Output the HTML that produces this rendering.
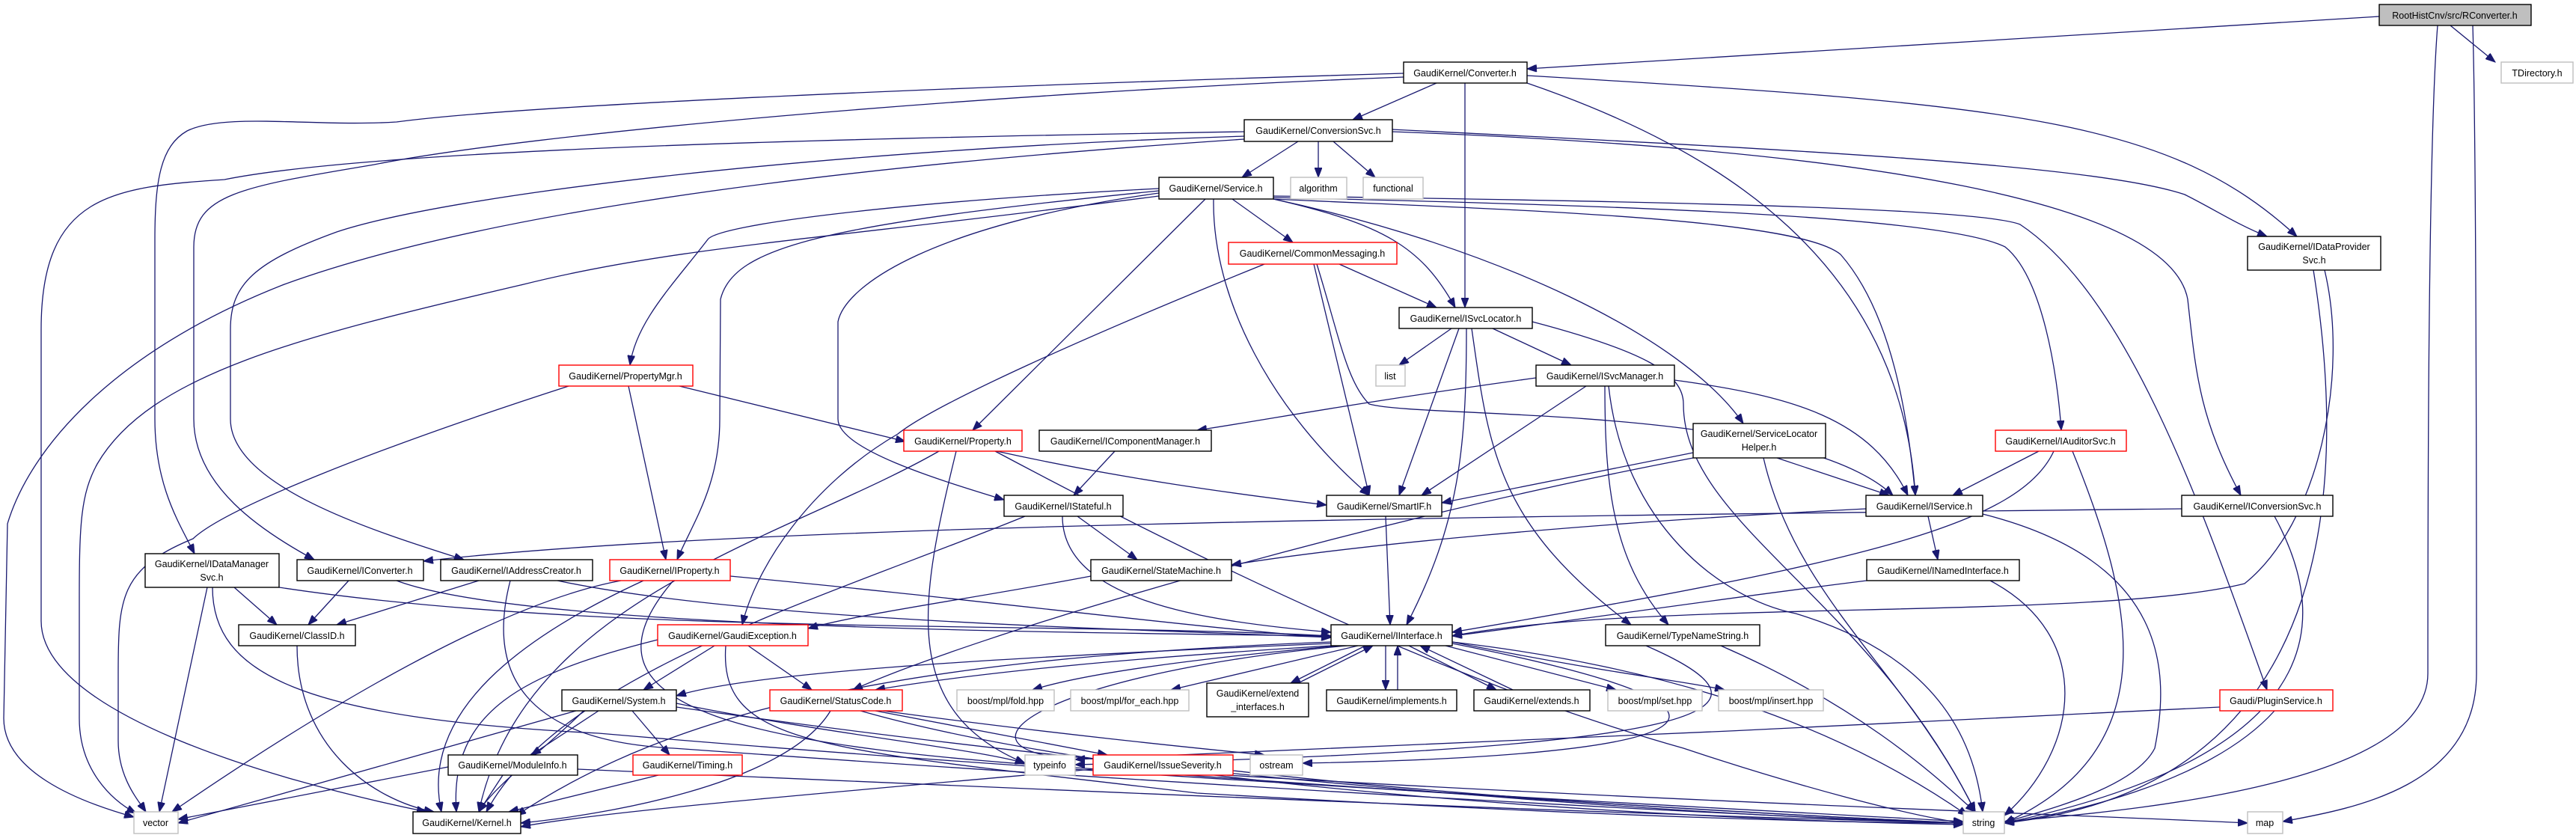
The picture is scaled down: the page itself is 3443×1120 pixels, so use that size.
<!DOCTYPE html>
<html><head><meta charset="utf-8"><style>
html,body{margin:0;padding:0;background:#fff;}
svg{display:block;}
text{font-family:"Liberation Sans",sans-serif;font-size:12.5px;fill:#000;text-anchor:middle;}
.e path{fill:none;stroke:#191970;stroke-width:1.3;}
.n rect{fill:#fff;stroke:#000;stroke-width:1.4;}
.g rect{fill:#fff;stroke:#bfbfbf;stroke-width:1.4;}
.r rect{fill:#fff;stroke:#ff0000;stroke-width:1.4;}
</style></head><body>
<svg width="3443" height="1120" viewBox="0 0 3443 1120" xmlns="http://www.w3.org/2000/svg">
<defs><marker id="a" markerUnits="userSpaceOnUse" markerWidth="14" markerHeight="10" refX="13" refY="5" orient="auto"><path d="M0,0 L13,5 L0,10 z" fill="#191970" stroke="#191970"/></marker></defs>
<g class="e" marker-end="url(#a)">
<path marker-end="url(#a)" d="M3180,22 L2041,92"/>
<path marker-end="url(#a)" d="M3275,34 L3335,83"/>
<path marker-end="url(#a)" d="M3258,34 C3245,200 3245,700 3245,900 C3245,1040 2900,1080 2679,1098"/>
<path marker-end="url(#a)" d="M3305,34 C3310,200 3310,700 3310,900 C3310,1050 3150,1080 3051,1098"/>
<path marker-end="url(#a)" d="M1920,111 L1808,160"/>
<path marker-end="url(#a)" d="M1958,111 L1958,411"/>
<path marker-end="url(#a)" d="M2041,111 C2300,200 2540,350 2560,662"/>
<path marker-end="url(#a)" d="M2041,101 C2700,140 2900,160 3070,316"/>
<path marker-end="url(#a)" d="M1876,98 C1300,115 700,140 530,163 C420,170 300,150 250,175 C215,195 207,240 207,320 L207,560 C207,650 240,700 260,740"/>
<path marker-end="url(#a)" d="M1876,103 C1300,125 700,180 500,220 C320,250 259,260 259,330 L259,560 C259,650 350,710 420,748"/>
<path marker-end="url(#a)" d="M1735,189 L1660,237"/>
<path marker-end="url(#a)" d="M1762,189 L1762,237"/>
<path marker-end="url(#a)" d="M1782,189 L1838,237"/>
<path marker-end="url(#a)" d="M1663,176 C1100,185 500,200 300,240 C150,250 55,260 55,440 L55,830 C55,950 350,1040 570,1085"/>
<path marker-end="url(#a)" d="M1663,182 C1100,200 600,260 450,310 C340,350 308,380 308,440 L308,560 C308,650 500,710 620,748"/>
<path marker-end="url(#a)" d="M1663,186 C1000,230 600,300 380,380 C150,470 40,600 10,700 L5,960 C5,1030 100,1070 179,1092"/>
<path marker-end="url(#a)" d="M1861,176 C2500,200 2900,270 2924,400 C2935,500 2940,560 2995,662"/>
<path marker-end="url(#a)" d="M1861,173 C2400,200 2800,220 2920,260 C2960,280 2990,300 3030,316"/>
<path marker-end="url(#a)" d="M1647,266 L1728,324"/>
<path marker-end="url(#a)" d="M1702,266 C1850,300 1900,330 1945,411"/>
<path marker-end="url(#a)" d="M1622,266 C1620,400 1700,550 1830,662"/>
<path marker-end="url(#a)" d="M1611,266 L1300,575"/>
<path marker-end="url(#a)" d="M1702,266 C2000,280 2400,290 2460,340 C2530,420 2550,560 2560,662"/>
<path marker-end="url(#a)" d="M1702,266 C2000,330 2250,450 2330,566"/>
<path marker-end="url(#a)" d="M1702,264 C2200,275 2600,290 2680,330 C2730,370 2750,500 2755,575"/>
<path marker-end="url(#a)" d="M1702,262 C2300,270 2650,280 2700,300 C2850,400 2950,700 3030,922"/>
<path marker-end="url(#a)" d="M1549,252 C1200,270 960,300 946,320 C900,380 850,430 842,488"/>
<path marker-end="url(#a)" d="M1549,255 C1100,300 980,330 963,400 L962,560 C962,650 925,700 905,748"/>
<path marker-end="url(#a)" d="M1549,258 C1250,300 1130,380 1120,430 L1120,560 C1120,600 1250,640 1342,668"/>
<path marker-end="url(#a)" d="M1549,262 C1100,320 900,330 700,380 C400,450 200,500 130,620 C108,660 106,700 106,800 L106,960 C106,1030 150,1070 182,1087"/>
<path marker-end="url(#a)" d="M1790,353 L1920,411"/>
<path marker-end="url(#a)" d="M1756,353 L1830,662"/>
<path marker-end="url(#a)" d="M1760,353 C1790,450 1800,510 1830,540 C1900,560 2400,540 2530,662"/>
<path marker-end="url(#a)" d="M1690,353 C1450,450 1250,540 1200,580 C1080,650 1010,760 992,835"/>
<path marker-end="url(#a)" d="M1940,439 L1870,488"/>
<path marker-end="url(#a)" d="M1995,439 L2100,488"/>
<path marker-end="url(#a)" d="M1950,439 L1870,662"/>
<path marker-end="url(#a)" d="M1960,439 C1960,600 1950,700 1880,835"/>
<path marker-end="url(#a)" d="M1967,439 C1990,600 2000,700 2180,835"/>
<path marker-end="url(#a)" d="M2048,430 C2200,470 2250,500 2250,540 C2250,700 2500,800 2640,1085"/>
<path marker-end="url(#a)" d="M2053,505 C1800,540 1700,560 1600,575"/>
<path marker-end="url(#a)" d="M2120,516 L1900,662"/>
<path marker-end="url(#a)" d="M2238,508 C2400,530 2500,560 2550,662"/>
<path marker-end="url(#a)" d="M2145,516 C2145,650 2155,750 2230,835"/>
<path marker-end="url(#a)" d="M2150,516 C2170,700 2300,800 2400,820 C2600,880 2640,1000 2650,1085"/>
<path marker-end="url(#a)" d="M908,516 L1210,590"/>
<path marker-end="url(#a)" d="M840,516 L890,748"/>
<path marker-end="url(#a)" d="M760,516 C500,600 300,680 258,720 C160,760 158,800 158,900 L158,990 C158,1040 185,1070 195,1085"/>
<path marker-end="url(#a)" d="M1332,603 C1500,640 1650,660 1773,675"/>
<path marker-end="url(#a)" d="M1330,603 C1700,800 2000,930 2250,1000 C2400,1050 2550,1090 2624,1100"/>
<path marker-end="url(#a)" d="M1255,603 C1050,720 700,800 640,1085"/>
<path marker-end="url(#a)" d="M1278,603 C1230,800 1200,950 1370,1020"/>
<path marker-end="url(#a)" d="M1490,603 L1435,662"/>
<path marker-end="url(#a)" d="M1440,690 L1520,748"/>
<path marker-end="url(#a)" d="M1420,690 C1420,800 1600,830 1779,845"/>
<path marker-end="url(#a)" d="M1370,690 C1100,800 750,900 650,1085"/>
<path marker-end="url(#a)" d="M1852,690 L1858,835"/>
<path marker-end="url(#a)" d="M2263,605 L1927,672"/>
<path marker-end="url(#a)" d="M2375,612 L2525,662"/>
<path marker-end="url(#a)" d="M2357,612 C2400,800 2550,900 2640,1085"/>
<path marker-end="url(#a)" d="M2263,612 C1800,700 1300,850 1140,922"/>
<path marker-end="url(#a)" d="M2725,603 L2610,662"/>
<path marker-end="url(#a)" d="M2745,603 C2700,700 2500,750 1941,845"/>
<path marker-end="url(#a)" d="M2770,603 C2850,800 2900,1000 2679,1100"/>
<path marker-end="url(#a)" d="M2577,690 L2590,748"/>
<path marker-end="url(#a)" d="M2494,680 C2100,700 1800,730 1646,755"/>
<path marker-end="url(#a)" d="M2650,687 C2900,750 2900,900 2880,1000 C2850,1060 2700,1090 2679,1100"/>
<path marker-end="url(#a)" d="M2916,680 C2000,690 1000,700 566,750"/>
<path marker-end="url(#a)" d="M3040,690 C3100,800 3150,1000 2679,1100"/>
<path marker-end="url(#a)" d="M3107,361 C3140,500 3100,700 3000,780 C2800,830 2200,800 1941,850"/>
<path marker-end="url(#a)" d="M3092,361 C3130,600 3150,1050 2679,1100"/>
<path marker-end="url(#a)" d="M313,785 L370,835"/>
<path marker-end="url(#a)" d="M373,785 C800,850 1400,830 1779,850"/>
<path marker-end="url(#a)" d="M277,785 L213,1085"/>
<path marker-end="url(#a)" d="M284,785 C284,900 400,960 800,980 C1500,1040 2300,1080 2624,1098"/>
<path marker-end="url(#a)" d="M466,776 L412,835"/>
<path marker-end="url(#a)" d="M530,776 C700,840 1400,845 1779,850"/>
<path marker-end="url(#a)" d="M640,776 L450,835"/>
<path marker-end="url(#a)" d="M745,776 C1000,830 1500,840 1779,852"/>
<path marker-end="url(#a)" d="M682,776 C650,900 700,990 900,1000 C1600,1050 2300,1090 2624,1100"/>
<path marker-end="url(#a)" d="M976,770 C1300,800 1600,840 1779,852"/>
<path marker-end="url(#a)" d="M830,776 C700,800 500,900 230,1085"/>
<path marker-end="url(#a)" d="M860,776 C700,850 560,950 590,1085"/>
<path marker-end="url(#a)" d="M900,776 C750,950 1000,1000 1500,1030 C2200,1080 2500,1095 2624,1100"/>
<path marker-end="url(#a)" d="M1458,770 C1300,800 1150,820 1080,840"/>
<path marker-end="url(#a)" d="M2495,776 C2300,800 2100,830 1941,850"/>
<path marker-end="url(#a)" d="M2660,776 C2800,850 2780,1000 2679,1090"/>
<path marker-end="url(#a)" d="M397,863 C397,1000 500,1070 580,1085"/>
<path marker-end="url(#a)" d="M955,863 L860,922"/>
<path marker-end="url(#a)" d="M1000,863 L1085,922"/>
<path marker-end="url(#a)" d="M879,855 C700,900 600,950 610,1085"/>
<path marker-end="url(#a)" d="M970,863 C960,1000 1100,1000 1600,1060 C2200,1095 2500,1100 2624,1100"/>
<path marker-end="url(#a)" d="M1779,860 C1300,880 1000,900 904,930"/>
<path marker-end="url(#a)" d="M1779,863 C1500,880 1300,900 1170,922"/>
<path marker-end="url(#a)" d="M1790,863 C1600,880 1450,900 1380,922"/>
<path marker-end="url(#a)" d="M1815,863 L1565,922"/>
<path marker-end="url(#a)" d="M1825,863 L1725,913"/>
<path marker-end="url(#a)" d="M1735,913 L1835,863"/>
<path marker-end="url(#a)" d="M1852,863 L1852,922"/>
<path marker-end="url(#a)" d="M1868,922 L1868,863"/>
<path marker-end="url(#a)" d="M1883,863 L2000,922"/>
<path marker-end="url(#a)" d="M2022,922 L1898,863"/>
<path marker-end="url(#a)" d="M1932,863 L2160,922"/>
<path marker-end="url(#a)" d="M1941,858 C2150,900 2250,910 2305,922"/>
<path marker-end="url(#a)" d="M1800,863 C1400,900 1250,1000 1437,1015"/>
<path marker-end="url(#a)" d="M1941,860 C2400,950 2300,1010 1741,1020"/>
<path marker-end="url(#a)" d="M1779,858 C1200,880 900,950 690,1090"/>
<path marker-end="url(#a)" d="M1941,858 C2300,900 2500,1000 2630,1090"/>
<path marker-end="url(#a)" d="M2300,863 C2500,950 2600,1050 2640,1085"/>
<path marker-end="url(#a)" d="M2200,863 C2400,950 2300,1000 1437,1022"/>
<path marker-end="url(#a)" d="M800,950 L710,1009"/>
<path marker-end="url(#a)" d="M845,950 L895,1009"/>
<path marker-end="url(#a)" d="M780,950 C730,1000 660,1050 640,1085"/>
<path marker-end="url(#a)" d="M770,950 L238,1100"/>
<path marker-end="url(#a)" d="M904,945 C1500,1030 2200,1090 2624,1100"/>
<path marker-end="url(#a)" d="M904,940 C1100,980 1300,1000 1370,1020"/>
<path marker-end="url(#a)" d="M1170,950 L1480,1009"/>
<path marker-end="url(#a)" d="M1110,950 C1050,1050 800,1090 696,1100"/>
<path marker-end="url(#a)" d="M1180,950 C1400,980 1600,1000 1690,1009"/>
<path marker-end="url(#a)" d="M1150,950 C1500,1050 2200,1095 2624,1102"/>
<path marker-end="url(#a)" d="M672,1036 L640,1085"/>
<path marker-end="url(#a)" d="M599,1025 L238,1095"/>
<path marker-end="url(#a)" d="M772,1028 C1500,1060 2200,1090 2624,1100"/>
<path marker-end="url(#a)" d="M880,1036 L680,1085"/>
<path marker-end="url(#a)" d="M1461,1028 C1100,1060 800,1085 696,1105"/>
<path marker-end="url(#a)" d="M1640,1036 C2200,1070 2800,1090 3004,1100"/>
<path marker-end="url(#a)" d="M1648,1030 C2000,1070 2400,1090 2624,1100"/>
<path marker-end="url(#a)" d="M3040,950 C2950,1050 2750,1090 2679,1100"/>
<path marker-end="url(#a)" d="M2967,945 C2500,970 1800,1000 1437,1015"/>
</g>
<g>
<g class="n"><rect x="3180" y="6" width="203" height="28" style="fill:#bfbfbf"/><text x="3281" y="25">RootHistCnv/src/RConverter.h</text></g>
<g class="g"><rect x="3343" y="83" width="96" height="28"/><text x="3391" y="102">TDirectory.h</text></g>
<g class="n"><rect x="1876" y="83" width="165" height="28"/><text x="1958" y="102">GaudiKernel/Converter.h</text></g>
<g class="n"><rect x="1663" y="160" width="198" height="29"/><text x="1762" y="179">GaudiKernel/ConversionSvc.h</text></g>
<g class="n"><rect x="1549" y="237" width="153" height="29"/><text x="1625" y="256">GaudiKernel/Service.h</text></g>
<g class="g"><rect x="1725" y="237" width="75" height="29"/><text x="1762" y="256">algorithm</text></g>
<g class="g"><rect x="1822" y="237" width="80" height="29"/><text x="1862" y="256">functional</text></g>
<g class="r"><rect x="1642" y="324" width="225" height="29"/><text x="1754" y="343">GaudiKernel/CommonMessaging.h</text></g>
<g class="n"><rect x="1870" y="411" width="178" height="28"/><text x="1959" y="430">GaudiKernel/ISvcLocator.h</text></g>
<g class="g"><rect x="1839" y="488" width="39" height="28"/><text x="1858" y="507">list</text></g>
<g class="n"><rect x="2053" y="488" width="185" height="28"/><text x="2145" y="507">GaudiKernel/ISvcManager.h</text></g>
<g class="n"><rect x="3004" y="316" width="178" height="45"/><text x="3093" y="334">GaudiKernel/IDataProvider</text><text x="3093" y="352">Svc.h</text></g>
<g class="r"><rect x="747" y="488" width="179" height="28"/><text x="836" y="507">GaudiKernel/PropertyMgr.h</text></g>
<g class="r"><rect x="1208" y="575" width="158" height="28"/><text x="1287" y="594">GaudiKernel/Property.h</text></g>
<g class="n"><rect x="1389" y="575" width="230" height="28"/><text x="1504" y="594">GaudiKernel/IComponentManager.h</text></g>
<g class="n"><rect x="2263" y="566" width="177" height="46"/><text x="2351" y="584">GaudiKernel/ServiceLocator</text><text x="2351" y="602">Helper.h</text></g>
<g class="r"><rect x="2667" y="575" width="175" height="28"/><text x="2754" y="594">GaudiKernel/IAuditorSvc.h</text></g>
<g class="n"><rect x="1342" y="662" width="159" height="28"/><text x="1421" y="681">GaudiKernel/IStateful.h</text></g>
<g class="n"><rect x="1773" y="662" width="154" height="28"/><text x="1850" y="681">GaudiKernel/SmartIF.h</text></g>
<g class="n"><rect x="2494" y="662" width="156" height="28"/><text x="2572" y="681">GaudiKernel/IService.h</text></g>
<g class="n"><rect x="2916" y="662" width="202" height="28"/><text x="3017" y="681">GaudiKernel/IConversionSvc.h</text></g>
<g class="n"><rect x="194" y="740" width="179" height="45"/><text x="283" y="758">GaudiKernel/IDataManager</text><text x="283" y="776">Svc.h</text></g>
<g class="n"><rect x="397" y="748" width="169" height="28"/><text x="481" y="767">GaudiKernel/IConverter.h</text></g>
<g class="n"><rect x="589" y="748" width="203" height="28"/><text x="690" y="767">GaudiKernel/IAddressCreator.h</text></g>
<g class="r"><rect x="815" y="748" width="161" height="28"/><text x="895" y="767">GaudiKernel/IProperty.h</text></g>
<g class="n"><rect x="1458" y="748" width="188" height="28"/><text x="1552" y="767">GaudiKernel/StateMachine.h</text></g>
<g class="n"><rect x="2495" y="748" width="204" height="28"/><text x="2597" y="767">GaudiKernel/INamedInterface.h</text></g>
<g class="n"><rect x="319" y="835" width="156" height="28"/><text x="397" y="854">GaudiKernel/ClassID.h</text></g>
<g class="r"><rect x="879" y="835" width="201" height="28"/><text x="979" y="854">GaudiKernel/GaudiException.h</text></g>
<g class="n"><rect x="1779" y="835" width="162" height="28"/><text x="1860" y="854">GaudiKernel/IInterface.h</text></g>
<g class="n"><rect x="2146" y="835" width="206" height="28"/><text x="2249" y="854">GaudiKernel/TypeNameString.h</text></g>
<g class="n"><rect x="751" y="922" width="153" height="28"/><text x="827" y="941">GaudiKernel/System.h</text></g>
<g class="r"><rect x="1029" y="922" width="177" height="28"/><text x="1117" y="941">GaudiKernel/StatusCode.h</text></g>
<g class="g"><rect x="1279" y="922" width="130" height="28"/><text x="1344" y="941">boost/mpl/fold.hpp</text></g>
<g class="g"><rect x="1431" y="922" width="158" height="28"/><text x="1510" y="941">boost/mpl/for_each.hpp</text></g>
<g class="n"><rect x="1613" y="913" width="136" height="45"/><text x="1681" y="931">GaudiKernel/extend</text><text x="1681" y="949">_interfaces.h</text></g>
<g class="n"><rect x="1773" y="922" width="174" height="28"/><text x="1860" y="941">GaudiKernel/implements.h</text></g>
<g class="n"><rect x="1970" y="922" width="155" height="28"/><text x="2047" y="941">GaudiKernel/extends.h</text></g>
<g class="g"><rect x="2149" y="922" width="126" height="28"/><text x="2212" y="941">boost/mpl/set.hpp</text></g>
<g class="g"><rect x="2297" y="922" width="140" height="28"/><text x="2367" y="941">boost/mpl/insert.hpp</text></g>
<g class="r"><rect x="2967" y="922" width="151" height="28"/><text x="3042" y="941">Gaudi/PluginService.h</text></g>
<g class="n"><rect x="599" y="1009" width="173" height="27"/><text x="685" y="1027">GaudiKernel/ModuleInfo.h</text></g>
<g class="r"><rect x="846" y="1009" width="146" height="27"/><text x="919" y="1027">GaudiKernel/Timing.h</text></g>
<g class="g"><rect x="1370" y="1009" width="67" height="27"/><text x="1403" y="1027">typeinfo</text></g>
<g class="r"><rect x="1461" y="1009" width="187" height="27"/><text x="1554" y="1027">GaudiKernel/IssueSeverity.h</text></g>
<g class="g"><rect x="1671" y="1009" width="70" height="27"/><text x="1706" y="1027">ostream</text></g>
<g class="g"><rect x="179" y="1085" width="59" height="29"/><text x="208" y="1104">vector</text></g>
<g class="n"><rect x="552" y="1085" width="144" height="29"/><text x="624" y="1104">GaudiKernel/Kernel.h</text></g>
<g class="g"><rect x="2624" y="1085" width="55" height="29"/><text x="2651" y="1104">string</text></g>
<g class="g"><rect x="3004" y="1085" width="47" height="29"/><text x="3027" y="1104">map</text></g>
</g>
</svg>
</body></html>
